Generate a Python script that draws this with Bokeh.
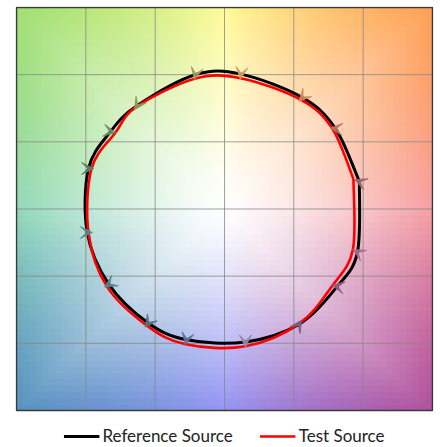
import numpy as np
from bokeh.plotting import figure
from bokeh.models import Range1d, Legend, LegendItem, Arrow, VeeHead
from bokeh.embed import file_html
from bokeh.resources import INLINE

# Hue bins 1..16 (counter-clockwise from the right)
hue_bins = list(range(1, 17))
ref_x = [0.973, 0.800, 0.562, 0.119, -0.209, -0.629, -0.822, -0.981,
         -0.990, -0.834, -0.550, -0.274, 0.151, 0.536, 0.813, 0.959]
ref_y = [0.204, 0.599, 0.829, 1.004, 1.000, 0.770, 0.576, 0.301,
         -0.175, -0.561, -0.849, -0.974, -0.990, -0.859, -0.576, -0.321]
test_x = [0.930, 0.775, 0.548, 0.115, -0.216, -0.634, -0.786, -0.959,
          -0.981, -0.851, -0.562, -0.281, 0.151, 0.541, 0.779, 0.926]
test_y = [0.223, 0.602, 0.814, 0.974, 0.970, 0.762, 0.569, 0.301,
          -0.175, -0.572, -0.866, -1.007, -1.022, -0.851, -0.569, -0.301]
arrow_colors = ["#a06474", "#c07262", "#d08a5a", "#d0a062", "#a49a5e", "#8a9a5a",
                "#6e8c62", "#5a8270", "#5a8a8a", "#5a8290", "#5a7288", "#627096",
                "#9488aa", "#74607e", "#925f82", "#a0708a"]
series_names = ["Reference Source", "Test Source"]
grid_ticks = [-1.0, -0.5, 0.0, 0.5, 1.0]
lim = 1.5

# background colour anchors (angle in degrees -> colour at the frame edge)
bg_angles = [0, 45, 90, 135, 180, 225, 270, 315]
bg_colors = ["#f6a0a4", "#ffa055", "#fffb98", "#a0e070",
             "#92d9ba", "#5692c0", "#9494f4", "#b0509e"]

# layout in pixels
W, H = 441, 447
left_pad, right_pad, top_pad = 15, 8, 6
frame_w = W - left_pad - right_pad
frame_h = H - top_pad
sq_w = frame_w - 2
sq_h = 403
xs = 2 * lim / sq_w
ys = 2 * lim / sq_h
x_range = Range1d(-lim - 1 * xs, lim + 1 * xs)
y_range = Range1d(-lim - (frame_h - sq_h - 1) * ys, lim + 1 * ys)

p = figure(width=W, height=H, output_backend="svg", toolbar_location=None,
           x_range=x_range, y_range=y_range,
           min_border_left=left_pad, min_border_right=right_pad,
           min_border_top=top_pad, min_border_bottom=0)
p.xaxis.visible = False
p.yaxis.visible = False
p.xgrid.visible = False
p.ygrid.visible = False
p.outline_line_color = None
p.background_fill_color = "white"
p.border_fill_color = "white"

# background made of small cells
N = 64
edges = np.linspace(-lim, lim, N + 1)
cx = (edges[:-1] + edges[1:]) / 2
X, Y = np.meshgrid(cx, cx)
ang = np.degrees(np.arctan2(Y, X)) % 360
s = np.maximum(np.abs(X), np.abs(Y)) / lim
f = s ** 1.25
a_ext = bg_angles + [360]
chans = []
for ch in range(3):
    vals = [int(c[1 + 2 * ch:3 + 2 * ch], 16) for c in bg_colors]
    vals = vals + [vals[0]]
    edge = np.interp(ang, a_ext, vals)
    chans.append(np.clip(255 - f * (255 - edge), 0, 255).astype(int))
cols = ["#%02x%02x%02x" % (r, g, b) for r, g, b in zip(chans[0].ravel(), chans[1].ravel(), chans[2].ravel())]
L, B = np.meshgrid(edges[:-1], edges[:-1])
R, T = np.meshgrid(edges[1:], edges[1:])
p.quad(left=L.ravel(), right=R.ravel(), bottom=B.ravel(), top=T.ravel(),
       fill_color=cols, line_color=cols, line_width=1)

# grid lines
gt = np.array(grid_ticks)
p.segment(x0=gt, x1=gt, y0=[-lim] * len(gt), y1=[lim] * len(gt),
          line_color="#888888", line_alpha=0.8, line_width=1)
p.segment(x0=[-lim] * len(gt), x1=[lim] * len(gt), y0=gt, y1=gt,
          line_color="#888888", line_alpha=0.8, line_width=1)


def smooth_segments(xv, yv):
    """Bezier control points of a smoothed line through the points, closed back to the first."""
    sx = list(xv) + [xv[0]]
    sy = list(yv) + [yv[0]]
    n = len(sx) - 1
    out = {k: [] for k in ("x0", "y0", "x1", "y1", "cx0", "cy0", "cx1", "cy1")}
    for i in range(n):
        pi = max(i - 1, 0)
        ni = min(i + 2, n)
        out["x0"].append(sx[i]); out["y0"].append(sy[i])
        out["x1"].append(sx[i + 1]); out["y1"].append(sy[i + 1])
        out["cx0"].append(sx[i] + (sx[i + 1] - sx[pi]) / 6)
        out["cy0"].append(sy[i] + (sy[i + 1] - sy[pi]) / 6)
        out["cx1"].append(sx[i + 1] - (sx[ni] - sx[i]) / 6)
        out["cy1"].append(sy[i + 1] - (sy[ni] - sy[i]) / 6)
    return out


rl = p.bezier(**smooth_segments(ref_x, ref_y), line_color="black", line_width=3)
tl = p.bezier(**smooth_segments(test_x, test_y), line_color="#ff0000", line_width=2.6)

# frame border
p.quad(left=[-lim], right=[lim], bottom=[-lim], top=[lim], fill_color=None,
       line_color="#3a3a3a", line_width=1.5)

for i in range(len(hue_bins)):
    dx = test_x[i] - ref_x[i]
    dy = test_y[i] - ref_y[i]
    d = max((dx * dx + dy * dy) ** 0.5, 1e-9)
    ex = ref_x[i] + dx / d * 0.037
    ey = ref_y[i] + dy / d * 0.037
    c = arrow_colors[i]
    p.add_layout(Arrow(end=VeeHead(size=12, fill_color=c, line_color=c, fill_alpha=0.92,
                                   line_alpha=0.92, line_width=1),
                       x_start=ref_x[i], y_start=ref_y[i], x_end=ex, y_end=ey,
                       line_alpha=0))

legend = Legend(items=[LegendItem(label=series_names[0], renderers=[rl], index=0),
                       LegendItem(label=series_names[1], renderers=[tl], index=0)],
                orientation="horizontal", location="bottom_center",
                label_text_font="Lato", label_text_font_size="17px", label_text_color="#222222",
                glyph_width=36, glyph_height=16, label_standoff=3, spacing=27,
                border_line_color=None, background_fill_alpha=0,
                padding=0, margin=1)
p.add_layout(legend, "center")

open("out.html", "w").write(file_html(p, INLINE))
